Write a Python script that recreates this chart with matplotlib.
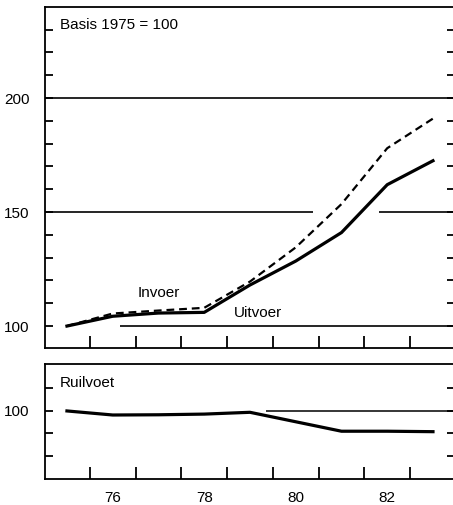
import matplotlib
matplotlib.use("Agg")
import matplotlib.pyplot as plt
from matplotlib.ticker import FixedLocator

# jaren (1975 = 75)
jaren = [75, 76, 77, 78, 79, 80, 81, 82, 83]
uitvoer = [100, 104.3, 105.7, 106.0, 118.0, 128.5, 141.0, 162.0, 172.5]
invoer = [100, 105.5, 106.8, 108.0, 119.5, 134.5, 153.5, 178.0, 191.0]
ruilvoet = [100, 98.2, 98.3, 98.6, 99.4, 95.2, 91.0, 91.0, 90.8]

jaar_labels = ["76", "78", "80", "82"]
jaar_label_pos = [76, 78, 80, 82]
jaar_ticks = [75.5, 76.5, 77.5, 78.5, 79.5, 80.5, 81.5, 82.5]

top_labels = ["100", "150", "200"]
top_label_pos = [100, 150, 200]
top_minor = list(range(100, 240, 10))
bot_minor = [80, 90, 100, 110]


def main():
    plt.rcParams['font.family'] = ['Liberation Sans', 'DejaVu Sans']
    fig = plt.figure(figsize=(4.53, 5.05), dpi=100)
    ax1 = fig.add_axes([0.0993, 0.311, 0.905, 0.675])
    ax2 = fig.add_axes([0.0993, 0.0515, 0.905, 0.228])

    for ax in (ax1, ax2):
        ax.set_xlim(74.52, 83.48)
        ax.spines['right'].set_visible(False)
        for s in ('left', 'top', 'bottom'):
            ax.spines[s].set_linewidth(1.3)
        ax.xaxis.set_major_locator(FixedLocator(jaar_label_pos))
        ax.xaxis.set_minor_locator(FixedLocator(jaar_ticks))
        ax.tick_params(axis='x', which='major', length=0)
        ax.tick_params(axis='x', which='minor', direction='in', length=9,
                       width=1.3)
        ax.tick_params(axis='y', which='both', direction='in', length=6,
                       width=1.3, left=True, right=True)
        ax.tick_params(axis='y', which='major', labelsize=11, pad=11)

    ax1.set_xticklabels([])
    ax2.set_xticklabels(jaar_labels, fontsize=11)
    ax2.tick_params(axis='x', which='major', pad=9)

    # bovenste paneel
    ax1.set_ylim(90.4, 239.9)
    ax1.yaxis.set_major_locator(FixedLocator(top_label_pos))
    ax1.set_yticklabels(top_labels)
    ax1.yaxis.set_minor_locator(FixedLocator(top_minor))

    ax1.axhline(200, color='black', lw=1.2)
    ax1.hlines(150, 74.52, 80.38, color='black', lw=1.2)
    ax1.hlines(150, 81.81, 83.48, color='black', lw=1.2)
    ax1.hlines(100, 76.16, 83.48, color='black', lw=1.2)

    ax1.plot(jaren, invoer, color='black', lw=1.6, ls=(0, (3.5, 2.2)))
    ax1.plot(jaren, uitvoer, color='black', lw=2.3)

    ax1.text(74.85, 232, "Basis 1975 = 100", fontsize=11, va='center')
    ax1.text(76.54, 114.5, "Invoer", fontsize=11, va='center')
    ax1.text(78.65, 105.7, "Uitvoer", fontsize=11, va='center')

    # onderste paneel: ruilvoet
    ax2.set_ylim(69.8, 120.9)
    ax2.yaxis.set_major_locator(FixedLocator([100]))
    ax2.set_yticklabels(["100"])
    ax2.yaxis.set_minor_locator(FixedLocator(bot_minor))
    ax2.hlines(100, 79.35, 83.48, color='black', lw=1.1)
    ax2.plot(jaren, ruilvoet, color='black', lw=2.3)
    ax2.text(74.85, 112.4, "Ruilvoet", fontsize=11, va='center')

    fig.savefig("out.png", dpi=100)


if __name__ == "__main__":
    main()
